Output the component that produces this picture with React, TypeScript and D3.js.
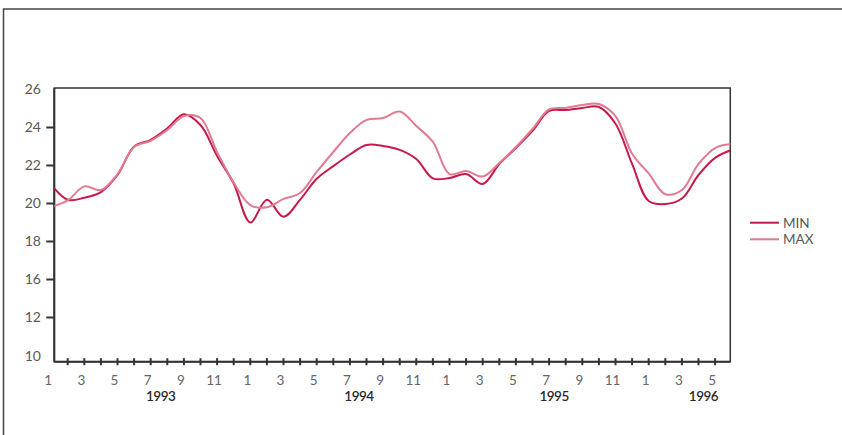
import React from 'react';
import * as d3 from 'd3';

// monthly values, Jan 1993 .. Jun 1996
const minValues = [
  21.0, 20.2, 20.3, 20.6, 21.5, 23.0, 23.35, 23.96, 24.7, 24.13, 22.5, 21.05,
  19.0, 20.2, 19.3, 20.2, 21.3, 21.97, 22.58, 23.08, 23.03, 22.82, 22.34, 21.32,
  21.34, 21.55, 21.03, 22.08, 22.92, 23.82, 24.87, 24.92, 25.03, 25.08, 24.2, 22.08,
  20.13, 19.97, 20.26, 21.5, 22.4, 22.82,
];
const maxValues = [
  19.82, 20.16, 20.9, 20.71, 21.55, 22.97, 23.3, 23.87, 24.6, 24.5, 22.7, 21.1,
  19.92, 19.8, 20.24, 20.55, 21.66, 22.71, 23.71, 24.4, 24.5, 24.84, 24.08, 23.24,
  21.55, 21.71, 21.42, 22.13, 22.97, 23.92, 24.95, 25.03, 25.18, 25.24, 24.6, 22.62,
  21.58, 20.49, 20.71, 22.08, 22.92, 23.13,
];
const yTickValues = [12, 14, 16, 18, 20, 22, 24, 26];
const yTickLabels = ['10', '12', '16', '18', '20', '22', '24', '26'];
const years = [
  { label: '1993', at: 6.6 },
  { label: '1994', at: 18.55 },
  { label: '1995', at: 30.3 },
  { label: '1996', at: 39.3 },
];
const series = [
  { name: 'MIN', values: minValues, color: '#c8194b' },
  { name: 'MAX', values: maxValues, color: '#e07b91' },
];

const App = () => {
  const width = 842;
  const height = 435;
  const plot = { left: 54.3, right: 730.3, top: 88, bottom: 361.7 };
  const axisColor = '#333';
  const textColor = '#595959';
  const font = 'Lato, "Open Sans", sans-serif';

  const xScale = d3.scaleLinear().domain([0, 41]).range([51.1, 731.7]);
  const yScale = d3.scaleLinear().domain([12, 26]).range([355.5, 89.5]);

  const line = d3
    .line<number>()
    .x((d, i) => xScale(i))
    .y(d => yScale(d))
    .curve(d3.curveCatmullRom.alpha(0.5));

  const months = d3.range(minValues.length);

  return (
    <svg
      width={width}
      height={height}
      style={{ position: 'absolute', left: 0, top: 0, background: '#fff' }}
    >
      <defs>
        <clipPath id="plotClip">
          <rect
            x={plot.left}
            y={plot.top}
            width={plot.right - plot.left}
            height={plot.bottom - plot.top}
          />
        </clipPath>
      </defs>
      {/* outer frame */}
      <path d={`M3.5,${height} V9 H${width}`} fill="none" stroke="#444" strokeWidth="1.5" />

      {/* plot frame */}
      <rect
        x={plot.left}
        y={plot.top}
        width={plot.right - plot.left}
        height={plot.bottom - plot.top}
        fill="none"
        stroke={axisColor}
        strokeWidth="1.5"
      />
      <line x1={plot.left} x2={plot.left} y1={plot.top} y2={plot.bottom} stroke={axisColor} strokeWidth="2" />
      <line x1={plot.left} x2={plot.right} y1={plot.bottom} y2={plot.bottom} stroke={axisColor} strokeWidth="2" />

      {/* y axis */}
      {yTickValues.map((v, i) => (
        <g key={`y-${v}`}>
          {i > 0 && i < yTickValues.length - 1 && (
            <line
              x1={plot.left - 8}
              x2={plot.left}
              y1={yScale(v)}
              y2={yScale(v)}
              stroke={axisColor}
              strokeWidth="2"
            />
          )}
          <text
            x={41}
            y={yScale(v) + (i === 0 ? 1 : 0)}
            dy="0.35em"
            textAnchor="end"
            fontFamily={font}
            fontSize="14"
            fill={textColor}
          >
            {yTickLabels[i]}
          </text>
        </g>
      ))}

      {/* x axis */}
      {months
        .filter(m => m > 0 && m < months.length - 1)
        .map(m => (
          <line
            key={`xt-${m}`}
            x1={xScale(m)}
            x2={xScale(m)}
            y1={plot.bottom - 3.5}
            y2={plot.bottom + 3.5}
            stroke={axisColor}
            strokeWidth="2"
          />
        ))}
      {months
        .filter(m => m % 2 === 0 && m < months.length - 1)
        .map(m => (
          <text
            key={`xl-${m}`}
            x={xScale(m) - 3}
            y={385}
            textAnchor="middle"
            fontFamily={font}
            fontSize="13.5"
            fill="#666"
          >
            {(m % 12) + 1}
          </text>
        ))}
      {years.map(y => (
        <text
          key={y.label}
          x={xScale(y.at)}
          y={401}
          textAnchor="middle"
          fontFamily={font}
          fontSize="13.5"
          fontWeight="600"
          letterSpacing="-0.5"
          fill="#2a2a2a"
        >
          {y.label}
        </text>
      ))}

      {/* series */}
      <g clipPath="url(#plotClip)">
        {series.map(s => (
          <path
            key={s.name}
            d={line(s.values) || ''}
            fill="none"
            stroke={s.color}
            strokeWidth="2"
          />
        ))}
      </g>

      {/* legend */}
      {series.map((s, i) => (
        <g key={`lg-${s.name}`} transform={`translate(750, ${222.7 + i * 16.6})`}>
          <line x1={0} x2={29} y1={0} y2={0} stroke={s.color} strokeWidth="2" />
          <text
            x={33}
            y={0}
            dy="0.38em"
            fontFamily={font}
            fontSize="13.5"
            fill={textColor}
          >
            {s.name}
          </text>
        </g>
      ))}
    </svg>
  );
};

export default App;
